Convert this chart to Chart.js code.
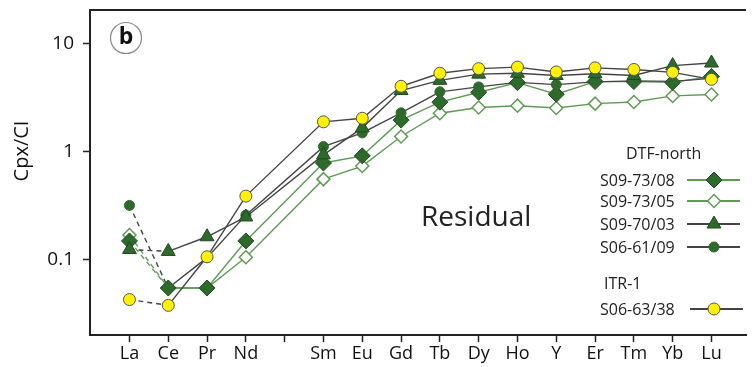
<!DOCTYPE html>
<html>
<head>
<meta charset="utf-8">
<script src="https://cdn.jsdelivr.net/npm/chart.js@4.4.1/dist/chart.umd.min.js"></script>
<style>
    html, body { margin: 0; padding: 0; background: #fff; }
    #wrap { width: 755px; height: 367px; position: relative; }
</style>
</head>
<body>
<div id="wrap"><canvas id="ree-chart"></canvas></div>
<script>
// Element order on the x axis (blank = Pm, tick only)
const elements = ['La', 'Ce', 'Pr', 'Nd', '', 'Sm', 'Eu', 'Gd', 'Tb', 'Dy', 'Ho', 'Y', 'Er', 'Tm', 'Yb', 'Lu'];

// Cpx / chondrite values (null = not plotted)
const s0973_08 = [0.15, 0.055, 0.055, 0.15, null, 0.79, 0.92, 1.97, 2.89, 3.57, 4.38, 3.42, 4.48, 4.48, 4.4, 5.0];
const s0973_05 = [0.17, 0.055, 0.055, 0.106, null, 0.56, 0.74, 1.39, 2.28, 2.58, 2.68, 2.55, 2.8, 2.9, 3.3, 3.4];
const s0970_03 = [0.125, 0.12, 0.164, 0.25, null, 0.94, 1.67, 3.7, 4.6, 5.25, 5.35, 5.1, 5.3, 5.1, 6.3, 6.65];
const s0661_09 = [0.32, 0.055, 0.105, 0.26, null, 1.12, 1.5, 2.3, 3.6, 4.0, 4.4, 4.2, 4.45, 4.55, 4.5, 4.8];
const s0663_38 = [0.043, 0.038, 0.107, 0.39, null, 1.9, 2.05, 4.05, 5.35, 5.9, 6.1, 5.5, 6.0, 5.8, 5.45, 4.7];

const yTicks = [0.1, 1, 10];

let colors = {
    green: '#5f9b55',
    darkGreen: '#2e6a2b',
    outline: '#1f4a1d',
    gray: '#444444',
    yellow: '#fff200',
    axis: '#222222'
};

const FONT = '"Open Sans", "Noto Sans", sans-serif';

// build {x,y} points, skipping the blank Pm slot
let toPoints = function(vals){
    let pts = [];
    vals.forEach(function(v, i){
        if (v !== null) pts.push({x: i, y: v});
    });
    return pts;
};

// La-Ce segment is dashed in the original
let dashFirst = {
    borderDash: ctx => ctx.p0DataIndex === 0 ? [5, 4] : undefined
};

let series = [
    { label: 'S09-73/08', vals: s0973_08, line: colors.green, style: 'rectRot', radius: 8,
      fill: colors.darkGreen, border: colors.outline, bw: 1, order: 3 },
    { label: 'S09-73/05', vals: s0973_05, line: colors.green, style: 'rectRot', radius: 6.5,
      fill: '#ffffff', border: colors.green, bw: 1.5, order: 4 },
    { label: 'S09-70/03', vals: s0970_03, line: colors.gray, style: 'triangle', radius: 8,
      fill: colors.darkGreen, border: colors.outline, bw: 1, order: 1 },
    { label: 'S06-61/09', vals: s0661_09, line: colors.gray, style: 'circle', radius: 5,
      fill: colors.darkGreen, border: colors.darkGreen, bw: 1, order: 2 },
    { label: 'S06-63/38', vals: s0663_38, line: colors.gray, style: 'circle', radius: 6,
      fill: colors.yellow, border: '#555555', bw: 1, order: 0 }
];

let datasets = series.map(function(s){
    return {
        label: s.label,
        data: toPoints(s.vals),
        borderColor: s.line,
        borderWidth: 1.4,
        pointStyle: s.style,
        pointRadius: s.radius,
        pointBackgroundColor: s.fill,
        pointBorderColor: s.border,
        pointBorderWidth: s.bw,
        segment: dashFirst,
        tension: 0,
        fill: false,
        order: s.order
    };
});

// Extra drawing: frame top, panel letter, y title, "Residual", legend
const decorations = {
    id: 'decorations',
    afterDraw(chart) {
        const ctx = chart.ctx;
        const area = chart.chartArea;
        ctx.save();

        // top frame line
        ctx.strokeStyle = colors.axis;
        ctx.lineWidth = 2;
        ctx.beginPath();
        ctx.moveTo(area.left - 1, area.top);
        ctx.lineTo(area.right, area.top);
        ctx.stroke();

        // circled "b"
        ctx.strokeStyle = '#888888';
        ctx.lineWidth = 1.2;
        ctx.beginPath();
        ctx.arc(126, 38, 15.5, 0, Math.PI * 2);
        ctx.stroke();
        ctx.fillStyle = '#111111';
        ctx.font = 'bold 23px ' + FONT;
        ctx.textAlign = 'center';
        ctx.textBaseline = 'middle';
        ctx.fillText('b', 126, 37);

        // y axis title
        ctx.save();
        ctx.translate(22, 151);
        ctx.rotate(-Math.PI / 2);
        ctx.font = '20px ' + FONT;
        ctx.fillStyle = '#111111';
        ctx.fillText('Cpx/CI', 0, 0);
        ctx.restore();

        // Residual
        ctx.font = '28px ' + FONT;
        ctx.fillStyle = '#222222';
        ctx.textAlign = 'left';
        ctx.fillText('Residual', 421, 218);

        // legend
        ctx.font = '16px ' + FONT;
        ctx.fillText('DTF-north', 626, 154);
        ctx.fillText('ITR-1', 604, 284);

        const rows = [180, 201, 224, 247, 309];
        series.forEach(function(s, i){
            let y = rows[i];
            let x0 = (i === 4) ? 690 : 687;
            let x1 = (i === 4) ? 743 : 740;
            ctx.fillStyle = '#222222';
            ctx.textAlign = 'left';
            ctx.fillText(s.label, 600, y + 1);

            ctx.strokeStyle = s.line;
            ctx.lineWidth = 1.8;
            ctx.setLineDash([]);
            ctx.beginPath();
            ctx.moveTo(x0, y);
            ctx.lineTo(x1, y);
            ctx.stroke();

            ctx.fillStyle = s.fill;
            ctx.strokeStyle = s.border;
            ctx.lineWidth = s.bw;
            Chart.helpers.drawPoint(ctx, {
                pointStyle: s.style, radius: s.radius, rotation: 0, borderWidth: s.bw
            }, 714, y);
        });

        ctx.restore();
    }
};

document.addEventListener('DOMContentLoaded', function() {
    let chartDom = document.getElementById('ree-chart').getContext('2d');
    new Chart(chartDom, {
        type: 'line',
        data: { datasets: datasets },
        options: {
            responsive: true,
            maintainAspectRatio: false,
            animation: false,
            events: [],
            layout: { padding: { top: 10, left: 0, right: 0, bottom: 0 } },
            plugins: {
                legend: { display: false },
                tooltip: { enabled: false }
            },
            scales: {
                x: {
                    type: 'linear',
                    min: -1.017,
                    max: 15.89,
                    afterFit: function(scale){
                        scale.height = 32;
                        scale.paddingLeft = 0;
                        scale.paddingRight = 0;
                    },
                    afterBuildTicks: function(scale){
                        scale.ticks = elements.map(function(e, i){ return { value: i }; });
                    },
                    ticks: {
                        autoSkip: false,
                        maxRotation: 0,
                        padding: 1,
                        color: '#111111',
                        font: { family: FONT, size: 18 },
                        callback: function(v){ return elements[v]; }
                    },
                    grid: { display: true, drawOnChartArea: false, drawTicks: true, tickLength: 7, tickWidth: 1.5, tickColor: colors.axis },
                    border: { display: true, width: 2, color: colors.axis }
                },
                y: {
                    type: 'logarithmic',
                    min: 0.0202,
                    max: 20.6,
                    afterFit: function(scale){
                        scale.width = 90;
                        scale.paddingTop = 0;
                        scale.paddingBottom = 0;
                    },
                    afterBuildTicks: function(scale){
                        scale.ticks = yTicks.map(function(v){ return { value: v }; });
                    },
                    ticks: {
                        padding: 9,
                        color: '#111111',
                        font: { family: FONT, size: 19 },
                        callback: function(v){ return yTicks.indexOf(v) >= 0 ? String(v) : ''; }
                    },
                    grid: { display: true, drawOnChartArea: false, drawTicks: true, tickLength: 7, tickWidth: 1.5, tickColor: colors.axis },
                    border: { display: true, width: 2, color: colors.axis }
                }
            }
        },
        plugins: [decorations]
    });
});
</script>
</body>
</html>
